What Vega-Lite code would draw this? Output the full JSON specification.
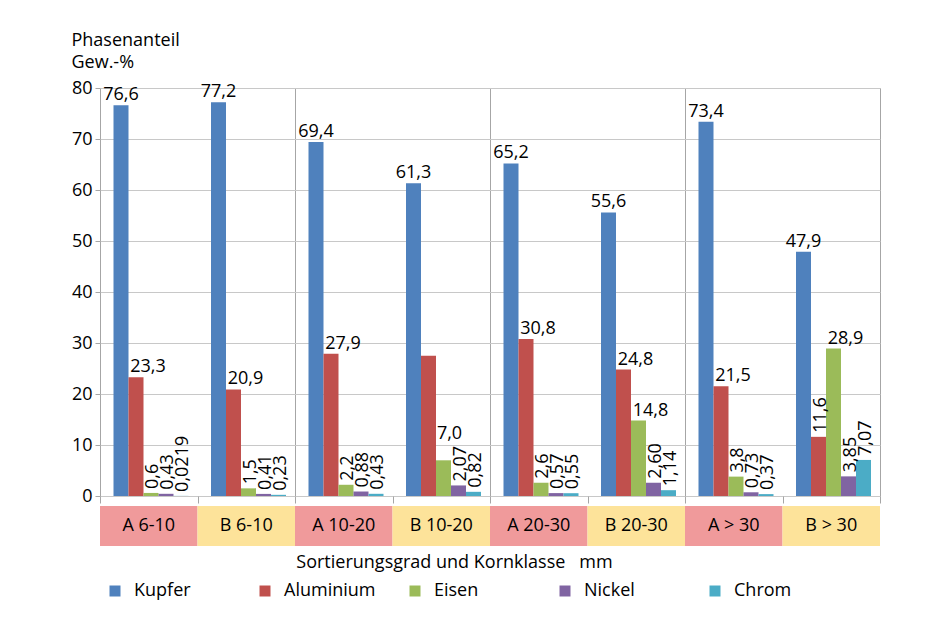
{
  "$schema": "https://vega.github.io/schema/vega-lite/v6.json",
  "padding": {"left": 70, "top": 30, "right": 68, "bottom": 15},
  "background": "white",
  "config": {
    "font": "Open Sans",
    "view": {"stroke": "#a6a6a6"},
    "text": {"fontSize": 18, "color": "#000000"},
    "legend": {"labelFontSize": 18, "labelColor": "#000000"}
  },
  "datasets": {
    "bars": [
      {"cat": "A 6-10", "metal": "Kupfer", "value": 76.6, "label": "76,6"},
      {"cat": "A 6-10", "metal": "Aluminium", "value": 23.3, "label": "23,3"},
      {"cat": "A 6-10", "metal": "Eisen", "value": 0.6, "label": "0,6"},
      {"cat": "A 6-10", "metal": "Nickel", "value": 0.43, "label": "0,43"},
      {"cat": "A 6-10", "metal": "Chrom", "value": 0.0219, "label": "0,0219"},
      {"cat": "B 6-10", "metal": "Kupfer", "value": 77.2, "label": "77,2"},
      {"cat": "B 6-10", "metal": "Aluminium", "value": 20.9, "label": "20,9"},
      {"cat": "B 6-10", "metal": "Eisen", "value": 1.5, "label": "1,5"},
      {"cat": "B 6-10", "metal": "Nickel", "value": 0.41, "label": "0,41"},
      {"cat": "B 6-10", "metal": "Chrom", "value": 0.23, "label": "0,23"},
      {"cat": "A 10-20", "metal": "Kupfer", "value": 69.4, "label": "69,4"},
      {"cat": "A 10-20", "metal": "Aluminium", "value": 27.9, "label": "27,9"},
      {"cat": "A 10-20", "metal": "Eisen", "value": 2.2, "label": "2,2"},
      {"cat": "A 10-20", "metal": "Nickel", "value": 0.88, "label": "0,88"},
      {"cat": "A 10-20", "metal": "Chrom", "value": 0.43, "label": "0,43"},
      {"cat": "B 10-20", "metal": "Kupfer", "value": 61.3, "label": "61,3"},
      {"cat": "B 10-20", "metal": "Aluminium", "value": 27.5, "label": ""},
      {"cat": "B 10-20", "metal": "Eisen", "value": 7.0, "label": "7,0"},
      {"cat": "B 10-20", "metal": "Nickel", "value": 2.07, "label": "2,07"},
      {"cat": "B 10-20", "metal": "Chrom", "value": 0.82, "label": "0,82"},
      {"cat": "A 20-30", "metal": "Kupfer", "value": 65.2, "label": "65,2"},
      {"cat": "A 20-30", "metal": "Aluminium", "value": 30.8, "label": "30,8"},
      {"cat": "A 20-30", "metal": "Eisen", "value": 2.6, "label": "2,6"},
      {"cat": "A 20-30", "metal": "Nickel", "value": 0.57, "label": "0,57"},
      {"cat": "A 20-30", "metal": "Chrom", "value": 0.55, "label": "0,55"},
      {"cat": "B 20-30", "metal": "Kupfer", "value": 55.6, "label": "55,6"},
      {"cat": "B 20-30", "metal": "Aluminium", "value": 24.8, "label": "24,8"},
      {"cat": "B 20-30", "metal": "Eisen", "value": 14.8, "label": "14,8"},
      {"cat": "B 20-30", "metal": "Nickel", "value": 2.6, "label": "2,60"},
      {"cat": "B 20-30", "metal": "Chrom", "value": 1.14, "label": "1,14"},
      {"cat": "A > 30", "metal": "Kupfer", "value": 73.4, "label": "73,4"},
      {"cat": "A > 30", "metal": "Aluminium", "value": 21.5, "label": "21,5"},
      {"cat": "A > 30", "metal": "Eisen", "value": 3.8, "label": "3,8"},
      {"cat": "A > 30", "metal": "Nickel", "value": 0.73, "label": "0,73"},
      {"cat": "A > 30", "metal": "Chrom", "value": 0.37, "label": "0,37"},
      {"cat": "B > 30", "metal": "Kupfer", "value": 47.9, "label": "47,9"},
      {"cat": "B > 30", "metal": "Aluminium", "value": 11.6, "label": "11,6"},
      {"cat": "B > 30", "metal": "Eisen", "value": 28.9, "label": "28,9"},
      {"cat": "B > 30", "metal": "Nickel", "value": 3.85, "label": "3,85"},
      {"cat": "B > 30", "metal": "Chrom", "value": 7.07, "label": "7,07"}
    ],
    "cats": [
      {"cat": "A 6-10", "grade": "A"},
      {"cat": "B 6-10", "grade": "B"},
      {"cat": "A 10-20", "grade": "A"},
      {"cat": "B 10-20", "grade": "B"},
      {"cat": "A 20-30", "grade": "A"},
      {"cat": "B 20-30", "grade": "B"},
      {"cat": "A > 30", "grade": "A"},
      {"cat": "B > 30", "grade": "B"}
    ]
  },
  "bounds": "flush",
  "spacing": 10,
  "resolve": {"scale": {"x": "independent"}},
  "vconcat": [
    {
      "width": 780,
      "height": 408,
      "data": {"name": "bars"},
      "encoding": {
        "x": {
          "field": "cat", "type": "nominal",
          "sort": ["A 6-10", "B 6-10", "A 10-20", "B 10-20", "A 20-30", "B 20-30", "A > 30", "B > 30"],
          "scale": {"paddingInner": 0, "paddingOuter": 0},
          "axis": {
            "title": null, "labels": false, "domain": false,
            "ticks": true, "tickBand": "extent", "tickSize": 7, "tickColor": "#a6a6a6",
            "grid": true, "gridColor": "#a6a6a6",
            "gridOpacity": {"condition": {"test": "indexof(['B 6-10','B 10-20','B 20-30'], datum.value) >= 0", "value": 1}, "value": 0}
          }
        },
        "xOffset": {
          "field": "metal", "type": "nominal",
          "sort": ["Kupfer", "Aluminium", "Eisen", "Nickel", "Chrom"],
          "scale": {"paddingInner": 0, "paddingOuter": 0.75, "align": 0.6}
        },
        "y": {
          "field": "value", "type": "quantitative",
          "scale": {"domain": [0, 80], "nice": false},
          "axis": {
            "values": [0, 10, 20, 30, 40, 50, 60, 70, 80],
            "title": ["Phasenanteil", "Gew.-%"],
            "titleAngle": 0, "titleAlign": "left", "titleBaseline": "alphabetic",
            "titleX": -29, "titleY": -43, "titleFontSize": 18, "titleFontWeight": "normal",
            "titleLineHeight": 22, "titleColor": "#000000",
            "labelFontSize": 18, "labelColor": "#000000", "labelPadding": 3,
            "tickSize": 5, "tickColor": "#a6a6a6", "domain": false,
            "gridColor": "#c8c8c8"
          }
        }
      },
      "layer": [
        {
          "mark": {"type": "bar"},
          "encoding": {
            "color": {
              "field": "metal", "type": "nominal",
              "sort": ["Kupfer", "Aluminium", "Eisen", "Nickel", "Chrom"],
              "scale": {"domain": ["Kupfer", "Aluminium", "Eisen", "Nickel", "Chrom"], "range": ["#4f81bd", "#c0504d", "#9bbb59", "#8064a2", "#4bacc6"]},
              "legend": {
                "title": null, "orient": "none", "legendX": 6, "legendY": 494,
                "direction": "horizontal", "columns": 5, "gridAlign": "all",
                "symbolType": "square", "symbolSize": 121, "symbolStrokeWidth": 0,
                "labelOffset": 10, "columnPadding": 30, "labelFont": "Open Sans"
              }
            }
          }
        },
        {
          "transform": [{"filter": "datum.metal == 'Kupfer'"}],
          "mark": {"type": "text", "baseline": "alphabetic", "align": "center", "dy": -5},
          "encoding": {"text": {"field": "label"}}
        },
        {
          "transform": [{"filter": "datum.metal != 'Kupfer' && datum.label != '' && datum.value >= 10 && !(datum.metal == 'Chrom' || (datum.metal == 'Aluminium' && datum.cat == 'B > 30'))"}],
          "mark": {"type": "text", "baseline": "alphabetic", "align": "center", "dx": 12, "dy": -5},
          "encoding": {"text": {"field": "label"}}
        },
        {
          "transform": [{"filter": "datum.metal != 'Kupfer' && datum.metal != 'Chrom' && datum.label != '' && datum.value >= 5 && datum.value < 10"}],
          "mark": {"type": "text", "baseline": "alphabetic", "align": "center", "dx": 6, "dy": -21},
          "encoding": {"text": {"field": "label"}}
        },
        {
          "transform": [{"filter": "datum.label != '' && (datum.value < 5 || datum.metal == 'Chrom' || (datum.metal == 'Aluminium' && datum.cat == 'B > 30'))"}],
          "mark": {"type": "text", "baseline": "middle", "align": "left", "angle": 270, "dx": 4, "dy": 2},
          "encoding": {"text": {"field": "label"}}
        }
      ]
    },
    {
      "width": 780,
      "height": 40,
      "data": {"name": "cats"},
      "view": {"stroke": null},
      "encoding": {
        "x": {
          "field": "cat", "type": "nominal",
          "sort": ["A 6-10", "B 6-10", "A 10-20", "B 10-20", "A 20-30", "B 20-30", "A > 30", "B > 30"],
          "scale": {"paddingInner": 0, "paddingOuter": 0},
          "axis": {
            "title": "Sortierungsgrad und Kornklasse\u00a0\u00a0\u00a0mm",
            "titleFontSize": 18, "titleFontWeight": "normal", "titleColor": "#000000",
            "titleX": 354, "titleAlign": "center", "titlePadding": 7,
            "labels": false, "ticks": false, "domain": false, "grid": false
          }
        }
      },
      "layer": [
        {
          "mark": {"type": "rect"},
          "encoding": {
            "fill": {"field": "grade", "type": "nominal", "scale": {"domain": ["A", "B"], "range": ["#f09a9b", "#fde39a"]}, "legend": null}
          }
        },
        {
          "mark": {"type": "text", "fontSize": 18, "baseline": "middle", "align": "center"},
          "encoding": {"text": {"field": "cat"}}
        }
      ]
    }
  ]
}
